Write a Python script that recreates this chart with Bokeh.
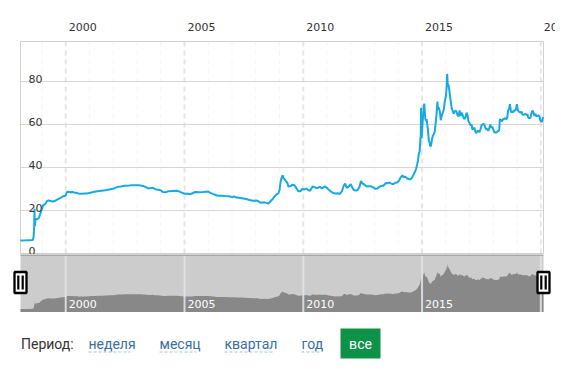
import numpy as np
import pandas as pd
from bokeh.plotting import figure
from bokeh.layouts import column
from bokeh.models import Range1d
from bokeh.core.properties import value
from bokeh.embed import file_html
from bokeh.resources import INLINE

# ---------------- data (USD/RUB) ----------------
dates = [
    "1998-02-05", "1998-03-15", "1998-05-01", "1998-06-15", "1998-08-14", "1998-08-26",
    "1998-09-03", "1998-09-09", "1998-09-10", "1998-09-15", "1998-09-25", "1998-10-15",
    "1998-11-15", "1998-12-01", "1998-12-31",
    "1999-01-20", "1999-02-15", "1999-03-15", "1999-04-10", "1999-05-15", "1999-06-15",
    "1999-07-15", "1999-08-15", "1999-09-15", "1999-10-15", "1999-11-15", "1999-12-31",
    "2000-01-20", "2000-02-15", "2000-03-15", "2000-04-15", "2000-05-15", "2000-06-15",
    "2000-07-15", "2000-08-15", "2000-09-15", "2000-10-15", "2000-11-15", "2000-12-31",
    "2001-02-01", "2001-03-15", "2001-05-01", "2001-07-01", "2001-09-01", "2001-11-01", "2001-12-31",
    "2002-02-01", "2002-03-15", "2002-05-01", "2002-07-01", "2002-09-01", "2002-11-01", "2002-12-31",
    "2003-02-01", "2003-03-01", "2003-04-01", "2003-05-01", "2003-06-15", "2003-08-01",
    "2003-09-01", "2003-10-01", "2003-11-01", "2003-12-31",
    "2004-02-01", "2004-03-15", "2004-05-01", "2004-07-01", "2004-09-01", "2004-10-15", "2004-12-31",
    "2005-02-01", "2005-03-15", "2005-04-15", "2005-06-15", "2005-08-15", "2005-10-15", "2005-12-31",
    "2006-02-01", "2006-03-15", "2006-05-15", "2006-07-15", "2006-09-15", "2006-11-15", "2006-12-31",
    "2007-02-01", "2007-03-15", "2007-05-15", "2007-07-15", "2007-09-15", "2007-11-15", "2007-12-31",
    "2008-02-01", "2008-03-15", "2008-05-15", "2008-07-15", "2008-08-15", "2008-09-15",
    "2008-10-15", "2008-11-15", "2008-12-15", "2008-12-31",
    "2009-01-15", "2009-02-01", "2009-02-19", "2009-03-01", "2009-03-15", "2009-04-01",
    "2009-04-15", "2009-05-01", "2009-05-15", "2009-06-01", "2009-07-01", "2009-07-15",
    "2009-08-15", "2009-09-15", "2009-10-15", "2009-11-15", "2009-12-15",
    "2010-01-15", "2010-02-15", "2010-03-15", "2010-04-15", "2010-05-25", "2010-06-15",
    "2010-07-15", "2010-08-15", "2010-09-15", "2010-10-15", "2010-11-25", "2010-12-31",
    "2011-01-15", "2011-02-15", "2011-03-15", "2011-04-15", "2011-05-15", "2011-06-15",
    "2011-07-15", "2011-08-15", "2011-09-15", "2011-10-05", "2011-11-01", "2011-11-25", "2011-12-31",
    "2012-01-15", "2012-02-15", "2012-03-15", "2012-04-15", "2012-05-15", "2012-06-05",
    "2012-07-01", "2012-08-01", "2012-09-01", "2012-10-01", "2012-11-01", "2012-12-15",
    "2013-01-15", "2013-02-15", "2013-03-15", "2013-04-15", "2013-05-15", "2013-06-25",
    "2013-07-15", "2013-08-15", "2013-09-15", "2013-10-15", "2013-11-15", "2013-12-15",
    "2014-01-15", "2014-02-01", "2014-03-03", "2014-03-20", "2014-04-15", "2014-05-15",
    "2014-06-15", "2014-07-15", "2014-08-15", "2014-09-15", "2014-10-01", "2014-10-15",
    "2014-10-31", "2014-11-10", "2014-11-25", "2014-12-05", "2014-12-12", "2014-12-17",
    "2014-12-19", "2014-12-25", "2014-12-31",
    "2015-01-13", "2015-01-20", "2015-01-30", "2015-02-04", "2015-02-10", "2015-02-20",
    "2015-03-03", "2015-03-12", "2015-03-20", "2015-04-01", "2015-04-15", "2015-04-28",
    "2015-05-05", "2015-05-18", "2015-06-01", "2015-06-15", "2015-07-01", "2015-07-15",
    "2015-07-31", "2015-08-10", "2015-08-25", "2015-09-01", "2015-09-15", "2015-10-01",
    "2015-10-15", "2015-10-30", "2015-11-15", "2015-12-01", "2015-12-15", "2015-12-31",
    "2016-01-12", "2016-01-22", "2016-02-01", "2016-02-10", "2016-02-20", "2016-03-01",
    "2016-03-15", "2016-04-01", "2016-04-15", "2016-05-01", "2016-05-15", "2016-06-01",
    "2016-06-15", "2016-07-01", "2016-07-15", "2016-08-01", "2016-08-15", "2016-09-01",
    "2016-09-15", "2016-10-01", "2016-10-15", "2016-11-01", "2016-11-15", "2016-12-01",
    "2016-12-15", "2016-12-31",
    "2017-01-15", "2017-02-01", "2017-02-15", "2017-03-01", "2017-03-15", "2017-04-01",
    "2017-04-15", "2017-05-01", "2017-05-15", "2017-06-01", "2017-06-15", "2017-07-01",
    "2017-07-15", "2017-08-01", "2017-08-15", "2017-09-01", "2017-09-15", "2017-10-01",
    "2017-10-15", "2017-11-01", "2017-11-15", "2017-12-01", "2017-12-15", "2017-12-31",
    "2018-01-15", "2018-02-01", "2018-02-15", "2018-03-01", "2018-03-15", "2018-04-01",
    "2018-04-10", "2018-04-15", "2018-05-01", "2018-05-15", "2018-06-01", "2018-06-15",
    "2018-07-01", "2018-07-15", "2018-08-01", "2018-08-15", "2018-09-01", "2018-09-12",
    "2018-10-01", "2018-10-15", "2018-11-01", "2018-11-15", "2018-12-01", "2018-12-15", "2018-12-28",
    "2019-01-10", "2019-01-25", "2019-02-10", "2019-02-25", "2019-03-10", "2019-03-25",
    "2019-04-10", "2019-04-25", "2019-05-10", "2019-05-25", "2019-06-10", "2019-06-25",
    "2019-07-10", "2019-07-25", "2019-08-10", "2019-08-25", "2019-09-10", "2019-09-25",
    "2019-10-10", "2019-10-25", "2019-11-10", "2019-11-25", "2019-12-10", "2019-12-25",
    "2020-01-10", "2020-01-20", "2020-01-31", "2020-02-11",
]
rates = [
    6.03, 6.08, 6.13, 6.19, 6.29, 7.86,
    12.8, 20.8, 16.0, 12.8, 16.0, 15.9,
    16.5, 18.0, 20.65,
    22.6, 22.8, 24.2, 24.7, 24.4, 24.2,
    24.4, 24.9, 25.4, 25.9, 26.5, 27.0,
    28.6, 28.7, 28.5, 28.6, 28.3, 28.2,
    27.9, 27.8, 27.8, 27.9, 27.9, 28.1,
    28.4, 28.7, 29.0, 29.2, 29.4, 29.8, 30.1,
    30.5, 31.0, 31.2, 31.5, 31.6, 31.8, 31.8,
    31.8, 31.6, 31.4, 31.1, 30.4, 30.4,
    30.6, 30.0, 29.8, 29.45,
    28.6, 28.5, 29.0, 29.1, 29.2, 28.8, 27.8,
    27.9, 27.6, 27.8, 28.6, 28.5, 28.6, 28.8,
    28.2, 27.7, 27.0, 26.9, 26.7, 26.6, 26.3,
    26.5, 26.0, 25.8, 25.5, 25.0, 24.5, 24.6,
    24.5, 23.6, 23.8, 23.2, 24.3, 25.3,
    26.5, 27.5, 28.0, 29.4,
    33.0, 35.2, 36.4, 34.8, 34.9, 33.9,
    33.4, 32.9, 31.2, 31.2, 31.5, 32.0,
    31.8, 30.5, 29.0, 28.9, 30.0,
    29.8, 30.2, 29.5, 29.2, 31.2, 31.0,
    30.5, 30.6, 31.0, 30.2, 31.3, 30.5,
    30.0, 29.2, 28.5, 28.0, 27.9, 28.0,
    27.7, 28.8, 31.5, 32.5, 30.5, 31.0, 32.2,
    31.3, 29.5, 29.3, 29.4, 31.0, 33.7,
    32.5, 32.0, 31.2, 31.3, 31.3, 30.6,
    30.1, 30.2, 31.0, 31.5, 31.5, 32.8,
    32.7, 33.0, 32.5, 32.2, 32.9, 33.0,
    34.0, 35.2, 36.3, 35.6, 35.7, 35.0,
    34.5, 34.5, 36.2, 38.0, 39.4, 41.0,
    43.4, 46.0, 47.5, 52.7, 55.0, 67.8,
    59.6, 53.5, 56.2,
    62.7, 65.3, 68.9, 69.7, 66.4, 62.7,
    61.7, 62.5, 60.4, 57.5, 52.4, 51.6,
    50.1, 49.9, 52.9, 54.7, 55.5, 56.8,
    61.3, 64.1, 70.7, 66.9, 67.9, 66.2,
    62.0, 64.0, 65.5, 66.8, 70.5, 72.9,
    76.3, 83.6, 77.5, 78.7, 76.8, 74.5,
    71.0, 67.6, 66.5, 65.0, 66.0, 66.5,
    65.8, 64.2, 63.8, 66.5, 64.0, 65.5,
    64.5, 63.0, 62.5, 63.5, 65.5, 64.2,
    61.3, 60.7,
    59.6, 60.0, 57.5, 58.0, 58.5, 56.5,
    56.0, 57.0, 57.0, 56.5, 57.5, 59.5,
    60.0, 60.3, 60.0, 58.5, 57.7, 58.0,
    57.0, 58.3, 60.0, 58.5, 59.0, 57.6,
    56.5, 56.3, 56.3, 56.5, 57.0, 57.3,
    62.0, 62.5, 62.0, 61.5, 62.5, 62.5,
    63.0, 62.5, 62.8, 66.5, 67.5, 69.5,
    65.6, 66.0, 65.7, 66.5, 66.5, 66.9, 69.5,
    67.0, 66.0, 65.7, 65.5, 66.0, 64.5,
    64.5, 64.6, 65.0, 64.5, 64.5, 63.0,
    63.0, 63.0, 65.3, 66.5, 65.5, 64.0,
    65.0, 63.8, 64.0, 64.2, 63.7, 61.9,
    61.2, 61.5, 63.0, 63.4,
]
year_ticks = [2000, 2005, 2010, 2015, 2020]
minor_years = list(range(1999, 2021))
y_ticks = [0, 20, 40, 60, 80]
y_max = 98.6
period_label = "Период:"
periods = ["неделя", "месяц", "квартал", "год"]
active_period = "все"

# ---------------- layout constants (page pixels) ----------------
W = 555            # page width used
FL, FR = 20, 12    # plot area starts at x=20 and ends 12 px before the right edge
FW = W - FL - FR
LINE_COLOR = "#17a9e4"
AX_FONT = value("DejaVu Sans")
UI_FONT = value("Roboto")


def to_ms(d):
    return pd.to_datetime(d).values.astype("datetime64[ms]").astype("int64").astype(float)


xms = to_ms(dates)
x0, x1 = xms[0], xms[-1]
d = (x1 - x0) / FW  # ms per pixel
year_ms = list(to_ms([f"{y}-01-01" for y in year_ticks]))
minor_ms = list(to_ms([f"{y}-01-01" for y in minor_years]))


def ext_range():
    return Range1d(x0 - FL * d, x1 + FR * d)


def base(h, yr, xr=None):
    f = figure(width=W, height=h, x_range=xr if xr is not None else ext_range(), y_range=yr,
               output_backend="svg", toolbar_location=None,
               x_axis_location=None, y_axis_location=None,
               min_border_left=0, min_border_right=0, min_border_top=0, min_border_bottom=0)
    f.outline_line_color = None
    f.background_fill_color = "white"
    f.border_fill_color = "white"
    f.xgrid.visible = False
    f.ygrid.visible = False
    return f


# ---------------- header with year labels ----------------
hdr = base(40, Range1d(0, 40))
hdr.text(x=year_ms, y=[14] * len(year_ms), text=[str(y) for y in year_ticks],
         x_offset=3, text_align="left", text_baseline="middle",
         text_font=AX_FONT, text_font_size="11px", text_color="#333333")

# ---------------- main plot ----------------
S = 2.15  # pixels per unit on the main y scale
main = base(214, Range1d(-1 / S, y_max + 1 / S))
# minor and major vertical dashed gridlines
main.segment(x0=minor_ms, x1=minor_ms, y0=[0] * len(minor_ms), y1=[y_max] * len(minor_ms),
             line_color="#f5f5f5", line_dash="5 4", line_width=1)
main.segment(x0=year_ms, x1=year_ms, y0=[0] * len(year_ms), y1=[y_max] * len(year_ms),
             line_color="#e6e6e6", line_dash="5 4", line_width=2)
# horizontal gridlines
main.segment(x0=[x0] * 4, x1=[x1] * 4, y0=y_ticks[1:], y1=y_ticks[1:],
             line_color="#d6d6d6", line_width=1)
# frame
main.quad(left=[x0], right=[x1], bottom=[0], top=[y_max], fill_color=None,
          line_color="#d0d0d0", line_width=1)
main.line(xms, rates, line_color=LINE_COLOR, line_width=2)
main.text(x=[x0] * len(y_ticks), y=y_ticks, text=[str(t) for t in y_ticks],
          x_offset=8, y_offset=-2, text_align="left", text_baseline="alphabetic",
          text_font=AX_FONT, text_font_size="11px", text_color="#333333")

# ---------------- navigator ----------------
NAV_TOP = 100.5
nav = base(58, Range1d(0, NAV_TOP))
nav.quad(left=[x0], right=[x1], bottom=[0], top=[NAV_TOP], fill_color="#cccccc", line_color=None)
nav.varea(x=xms, y1=np.zeros(len(rates)), y2=rates, fill_color="#888888")
nav.segment(x0=year_ms, x1=year_ms, y0=[0] * len(year_ms), y1=[NAV_TOP] * len(year_ms),
            line_color="#e2e2e2", line_width=2, line_alpha=0.9)
nav.segment(x0=[x0], x1=[x1], y0=[NAV_TOP - 0.9], y1=[NAV_TOP - 0.9], line_color="#9c9c9c", line_width=1.5)
nav.text(x=year_ms, y=[15] * len(year_ms), text=[str(y) for y in year_ticks],
         x_offset=3, text_align="left", text_baseline="middle",
         text_font=AX_FONT, text_font_size="11px", text_color="white")
hy = 52
nav.rect(x=[x0, x1], y=[hy, hy], width=12, height=21, width_units="screen", height_units="screen",
         fill_color="white", line_color="black", line_width=2.3)
bars_x = [x0 - 2.2 * d, x0 + 2.2 * d, x1 - 2.2 * d, x1 + 2.2 * d]
nav.rect(x=bars_x, y=[hy] * 4, width=2.2, height=14, width_units="screen", height_units="screen",
         fill_color="black", line_color=None)

# ---------------- period selector ----------------
bot = base(50, Range1d(50, 0), xr=Range1d(0, W))
link_x = [88, 159, 224, 301]
link_w = [42, 37, 48, 20]
bot.text(x=[20.5], y=[31], text=[period_label], text_baseline="middle", text_align="left",
         text_font=UI_FONT, text_font_size="14px", text_color="#333333")
bot.text(x=link_x, y=[31] * len(periods), text=periods, text_baseline="middle", text_align="left",
         text_font=UI_FONT, text_font_size="14px", text_color="#3b6ea5")
bot.segment(x0=link_x, x1=[a + b for a, b in zip(link_x, link_w)], y0=[39.5] * 4, y1=[39.5] * 4,
            line_color="#a9c1d8", line_dash="3 2", line_width=1)
bot.quad(left=[340], right=[380], top=[16], bottom=[46], fill_color="#0d9248", line_color=None)
bot.text(x=[360], y=[31], text=[active_period], text_baseline="middle", text_align="center",
         text_font=UI_FONT, text_font_size="14px", text_color="white")

layout = column(hdr, main, nav, bot, spacing=0)
open("out.html", "w").write(file_html(layout, INLINE))
